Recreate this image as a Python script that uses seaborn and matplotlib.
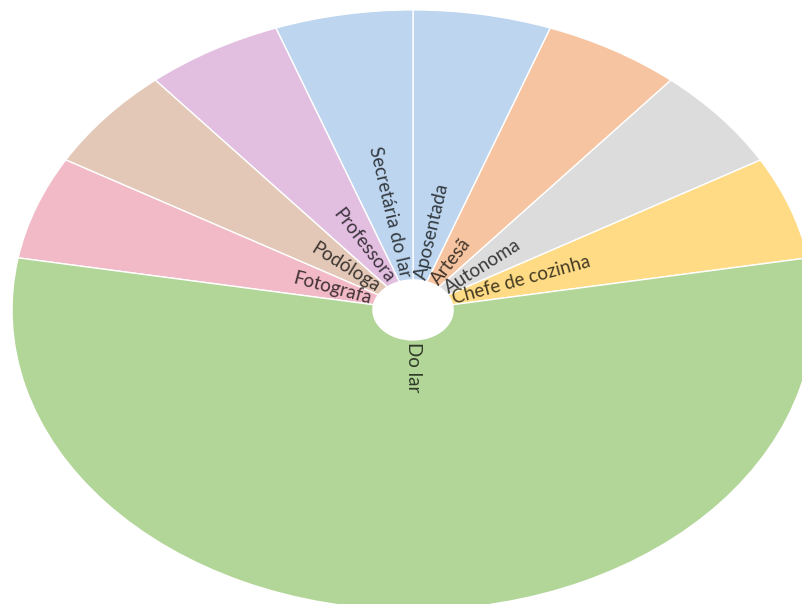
import numpy as np
import matplotlib
matplotlib.use('Agg')
import matplotlib.pyplot as plt
import seaborn as sns

# occupations, counter-clockwise from the right-hand side
labels = ['Chefe de cozinha', 'Autonoma', 'Artesã', 'Aposentada',
          'Secretária do lar', 'Professora', 'Podóloga', 'Fotografa', 'Do lar']
counts = [1, 1, 1, 1, 1, 1, 1, 1, 10]
colors = ['#FEDB84', '#DCDCDC', '#F6C4A0', '#BDD5EE',
          '#BDD5EE', '#E2BEE1', '#E3C8B7', '#F2B9C7', '#B2D598']

sns.set_theme(style='white')
plt.rcParams['font.family'] = ['Lato', 'DejaVu Sans']

fig = plt.figure(figsize=(8.02, 6.04), dpi=100)
ax = fig.add_axes([0, 0, 1, 1])

palette = sns.color_palette(colors)
wedges, _ = ax.pie(counts, colors=palette, startangle=10, counterclock=True,
                   radius=1.0,
                   wedgeprops=dict(width=0.9, edgecolor='white', linewidth=1.0))

# stretch the pie into an ellipse like the original
ax.set_aspect('auto')
ax.set_xlim(-1.030, 0.970)
ax.set_ylim(-0.98, 1.033)
ax.axis('off')

px_x = 802 / 2.0
px_y = 604 / 2.013

for w, lab, col in zip(wedges, labels, palette):
    mid = np.deg2rad((w.theta1 + w.theta2) / 2)
    screen = np.degrees(np.arctan2(px_y * np.sin(mid), px_x * np.cos(mid))) % 360
    tcol = tuple(c * 0.27 for c in col)
    if 90 < screen < 269:
        rot, ha, r = screen - 180, 'right', 0.112
    else:
        rot, ha, r = screen, 'left', 0.106
    ax.text(r * np.cos(mid), r * np.sin(mid), lab, rotation=rot,
            rotation_mode='anchor', ha=ha, va='center', fontsize=13.5,
            color=tcol)

fig.savefig('out.png', dpi=100)
